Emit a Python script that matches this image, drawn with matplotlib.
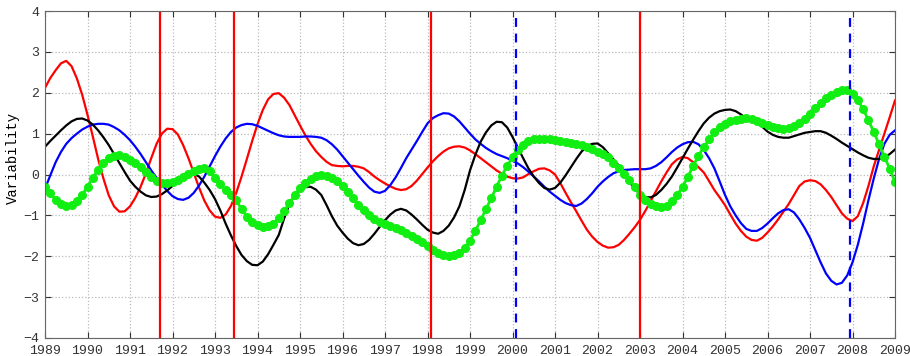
import numpy as np
import matplotlib
matplotlib.use('Agg')
import matplotlib.pyplot as plt

#%% values, one every 1/8 year from 1989 to 2009

years = np.linspace(1989, 2009, 161)

red = [2.12, 2.36, 2.55, 2.72, 2.78, 2.65, 2.35, 1.95, 1.46, 0.93,
       0.38, -0.10, -0.51, -0.78, -0.91, -0.90, -0.78, -0.57, -0.30, 0.03,
       0.40, 0.75, 1.00, 1.12, 1.11, 0.98, 0.72, 0.40, 0.04, -0.32,
       -0.64, -0.88, -1.03, -1.06, -0.98, -0.77, -0.45, -0.05, 0.38, 0.82,
       1.23, 1.58, 1.84, 1.97, 1.99, 1.88, 1.70, 1.45, 1.20, 0.96,
       0.75, 0.57, 0.43, 0.31, 0.23, 0.21, 0.20, 0.21, 0.21, 0.19,
       0.15, 0.06, -0.05, -0.14, -0.22, -0.29, -0.35, -0.38, -0.36, -0.28,
       -0.15, 0.01, 0.17, 0.32, 0.45, 0.56, 0.64, 0.68, 0.69, 0.66,
       0.59, 0.50, 0.40, 0.30, 0.20, 0.10, 0.02, -0.05, -0.09, -0.10,
       -0.07, 0.01, 0.08, 0.14, 0.15, 0.10, 0.00, -0.21, -0.45, -0.68,
       -0.90, -1.13, -1.35, -1.52, -1.65, -1.74, -1.79, -1.78, -1.72, -1.60,
       -1.45, -1.29, -1.11, -0.89, -0.65, -0.41, -0.17, 0.05, 0.25, 0.37,
       0.43, 0.40, 0.30, 0.18, 0.05, -0.16, -0.38, -0.56, -0.75, -0.98,
       -1.20, -1.38, -1.52, -1.60, -1.62, -1.55, -1.42, -1.27, -1.10, -0.91,
       -0.72, -0.50, -0.28, -0.17, -0.14, -0.16, -0.24, -0.38, -0.55, -0.75,
       -0.95, -1.08, -1.14, -1.02, -0.70, -0.28, 0.20, 0.60, 1.00, 1.40,
       1.81]

blue = [-0.35, -0.02, 0.30, 0.55, 0.75, 0.89, 1.00, 1.10, 1.17, 1.22,
        1.24, 1.24, 1.22, 1.16, 1.08, 0.97, 0.84, 0.68, 0.50, 0.30,
        0.10, -0.08, -0.25, -0.40, -0.53, -0.60, -0.62, -0.57, -0.45, -0.27,
        -0.05, 0.20, 0.45, 0.68, 0.88, 1.04, 1.15, 1.21, 1.24, 1.23,
        1.19, 1.13, 1.07, 1.01, 0.96, 0.93, 0.92, 0.92, 0.92, 0.93,
        0.93, 0.92, 0.90, 0.84, 0.74, 0.61, 0.45, 0.29, 0.13, -0.03,
        -0.18, -0.32, -0.42, -0.45, -0.40, -0.26, -0.07, 0.16, 0.40, 0.61,
        0.82, 1.04, 1.25, 1.38, 1.45, 1.50, 1.49, 1.42, 1.30, 1.15,
        1.00, 0.86, 0.75, 0.65, 0.57, 0.50, 0.45, 0.40, 0.34, 0.27,
        0.18, 0.07, -0.05, -0.17, -0.30, -0.42, -0.52, -0.62, -0.70, -0.75,
        -0.77, -0.71, -0.60, -0.46, -0.30, -0.17, -0.06, 0.03, 0.08, 0.11,
        0.12, 0.13, 0.13, 0.13, 0.15, 0.21, 0.30, 0.42, 0.55, 0.66,
        0.74, 0.79, 0.80, 0.74, 0.60, 0.40, 0.15, -0.17, -0.50, -0.78,
        -1.00, -1.19, -1.33, -1.38, -1.38, -1.31, -1.20, -1.07, -0.95, -0.87,
        -0.85, -0.93, -1.10, -1.31, -1.55, -1.85, -2.15, -2.42, -2.60, -2.69,
        -2.65, -2.47, -2.15, -1.72, -1.20, -0.63, -0.10, 0.38, 0.75, 0.97,
        1.08]

black = [0.68, 0.82, 0.95, 1.08, 1.20, 1.30, 1.36, 1.37, 1.32, 1.22,
         1.08, 0.91, 0.72, 0.50, 0.28, 0.06, -0.15, -0.30, -0.42, -0.51,
         -0.55, -0.54, -0.48, -0.39, -0.28, -0.17, -0.08, -0.01, 0.02, -0.05,
         -0.20, -0.38, -0.60, -0.88, -1.20, -1.49, -1.75, -1.97, -2.12, -2.21,
         -2.22, -2.13, -1.95, -1.72, -1.48, -1.08, -0.73, -0.50, -0.38, -0.31,
         -0.30, -0.37, -0.50, -0.75, -1.02, -1.25, -1.42, -1.57, -1.68, -1.73,
         -1.70, -1.60, -1.45, -1.28, -1.12, -0.98, -0.88, -0.84, -0.88, -0.98,
         -1.10, -1.23, -1.35, -1.42, -1.45, -1.38, -1.25, -1.05, -0.78, -0.38,
         0.10, 0.48, 0.80, 1.03, 1.20, 1.29, 1.28, 1.15, 0.92, 0.66,
         0.40, 0.15, -0.05, -0.21, -0.33, -0.37, -0.33, -0.20, -0.02, 0.18,
         0.38, 0.56, 0.69, 0.75, 0.76, 0.67, 0.52, 0.37, 0.22, 0.02,
         -0.18, -0.35, -0.48, -0.55, -0.56, -0.50, -0.38, -0.23, -0.05, 0.17,
         0.40, 0.63, 0.85, 1.06, 1.25, 1.39, 1.49, 1.55, 1.58, 1.59,
         1.55, 1.47, 1.37, 1.31, 1.27, 1.17, 1.05, 0.97, 0.92, 0.90,
         0.90, 0.94, 0.98, 1.02, 1.04, 1.06, 1.06, 1.02, 0.95, 0.87,
         0.78, 0.70, 0.62, 0.54, 0.47, 0.41, 0.38, 0.38, 0.42, 0.50,
         0.61]

green = [-0.30, -0.45, -0.62, -0.73, -0.77, -0.74, -0.64, -0.49, -0.30, -0.08,
         0.12, 0.28, 0.40, 0.46, 0.47, 0.43, 0.36, 0.29, 0.18, 0.07,
         -0.05, -0.15, -0.21, -0.22, -0.19, -0.13, -0.06, 0.01, 0.08, 0.13,
         0.15, 0.08, -0.08, -0.23, -0.38, -0.50, -0.63, -0.85, -1.03, -1.15,
         -1.23, -1.28, -1.27, -1.20, -1.07, -0.90, -0.70, -0.50, -0.33, -0.20,
         -0.10, -0.04, -0.02, -0.03, -0.09, -0.17, -0.28, -0.42, -0.58, -0.75,
         -0.88, -0.99, -1.09, -1.16, -1.22, -1.27, -1.32, -1.37, -1.43, -1.50,
         -1.57, -1.66, -1.76, -1.84, -1.91, -1.96, -1.99, -1.98, -1.92, -1.80,
         -1.62, -1.38, -1.12, -0.85, -0.58, -0.30, -0.03, 0.22, 0.42, 0.59,
         0.72, 0.81, 0.86, 0.88, 0.88, 0.86, 0.84, 0.81, 0.79, 0.76,
         0.74, 0.71, 0.68, 0.63, 0.56, 0.50, 0.43, 0.27, 0.15, 0.02,
         -0.13, -0.30, -0.50, -0.62, -0.71, -0.77, -0.79, -0.76, -0.66, -0.50,
         -0.30, -0.06, 0.21, 0.46, 0.67, 0.86, 1.03, 1.15, 1.24, 1.30,
         1.34, 1.37, 1.38, 1.36, 1.32, 1.27, 1.22, 1.17, 1.13, 1.12,
         1.13, 1.18, 1.26, 1.36, 1.49, 1.62, 1.75, 1.86, 1.95, 2.02,
         2.06, 2.06, 1.98, 1.82, 1.60, 1.33, 1.04, 0.74, 0.44, 0.14,
         -0.18]

events_solid = [1991.71, 1993.45, 1998.08, 2003.0]
events_dashed = [2000.08, 2007.94]

year_ticks = list(range(1989, 2010))
var_ticks = [-4, -3, -2, -1, 0, 1, 2, 3, 4]

#%%
plt.rcParams['font.family'] = ['Liberation Mono', 'DejaVu Sans Mono']

fig = plt.figure(figsize=(9.1, 3.56), dpi=100)
ax = fig.add_axes([45/910, 1 - 338/356, 850/910, 327/356])

ax.plot(years, red, color='red', lw=1.6)
ax.plot(years, blue, color='blue', lw=1.6)
ax.plot(years, black, color='black', lw=1.6)
ax.plot(years, green, color='#11ee11', lw=2, marker='o', ms=5.5, mec='#11ee11')

for ev in events_solid:
    ax.axvline(ev, color='red', lw=1.6)
for ev in events_dashed:
    ax.axvline(ev, color='blue', lw=1.6, ls=(0, (4, 3)))

ax.set_xlim(1989, 2009)
ax.set_ylim(-4, 4)
ax.set_xticks(year_ticks)
ax.set_yticks(var_ticks)
ax.set_xticklabels([str(y) for y in year_ticks])
ax.set_yticklabels([str(v).replace('-', '\u2212') for v in var_ticks])
ax.tick_params(direction='in', top=True, right=True, length=4, labelsize=9.5, colors='#333333')
ax.tick_params(axis='x', pad=5.2)
ax.tick_params(axis='y', pad=4)
ax.grid(True, ls=':', color='#bbbbbb', lw=0.9)
for s in ax.spines.values():
    s.set_color('#666666')
ax.set_ylabel('Variability', fontsize=10)
ax.yaxis.set_label_coords(-0.029, 0.55)

fig.savefig('out.png', dpi=100)
